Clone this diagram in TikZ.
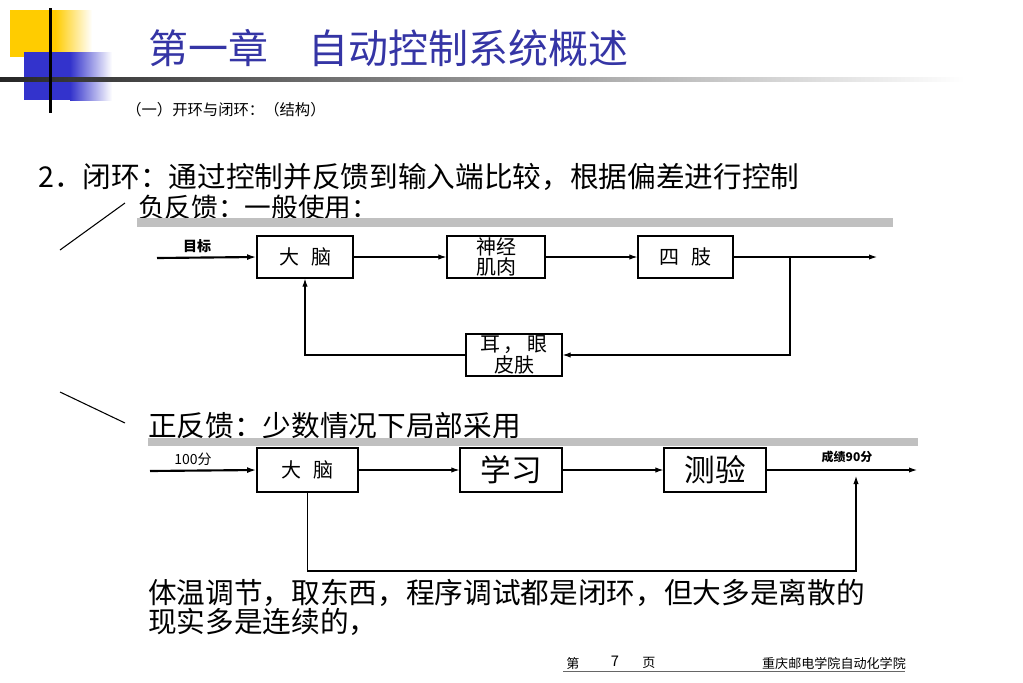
\documentclass[tikz,border=0pt]{standalone}
\usepackage{fontspec}
\setmainfont{Noto Sans CJK SC}
\usetikzlibrary{arrows.meta}
\definecolor{titleblue}{HTML}{3535A5}
\definecolor{decoyellow}{HTML}{FFCC00}
\definecolor{decoblue}{HTML}{3333CC}
\definecolor{bargray}{HTML}{C0C0C0}
\begin{document}
\begin{tikzpicture}[x=0.75pt,y=-0.75pt,
  blk/.style={draw, line width=0.9pt, inner sep=0pt, align=center, minimum height=31.5pt},
  conn/.style={line width=0.8pt, -{Latex[length=6pt,width=4pt]}},
  plain/.style={line width=0.8pt},
  inp/.style={line width=1.6pt, -{Latex[length=7pt,width=4.5pt]}},
  big/.style={font=\fontsize{21.5pt}{26pt}\selectfont, anchor=west, inner sep=0pt},
  lab/.style={font=\bfseries\fontsize{10.5pt}{12pt}\selectfont, inner sep=0pt},
  foot/.style={font=\fontsize{9.8pt}{12pt}\selectfont, inner sep=0pt}]
\useasboundingbox (0,0) rectangle (1023,682);
% decoration
\fill[decoyellow] (10,10) rectangle (55,57);
\shade[left color=decoyellow, right color=white] (55,10) rectangle (92,57);
\fill[decoblue] (24,52) rectangle (70,100);
\shade[left color=decoblue, right color=white] (70,52) rectangle (112,100);
\shade[left color=black!85, right color=white] (0,77) rectangle (965,81);
\fill[black] (48.5,8) rectangle (51.5,113);
% titles
\node[anchor=west, text=titleblue, font=\fontsize{30pt}{36pt}\selectfont, inner sep=0pt] (title) at (148,48) {第一章　自动控制系统概述};
\node[anchor=west, font=\fontsize{11.5pt}{13pt}\selectfont, inner sep=0pt] (sub) at (126,110) {（一）开环与闭环：（结构）};
\node[big] (head) at (38,177) {2．闭环：通过控制并反馈到输入端比较，根据偏差进行控制};
\node[big, font=\fontsize{20pt}{24pt}\selectfont] (neg) at (138,207) {负反馈：一般使用：};
\fill[bargray] (137,218) rectangle (893,227);
\draw[line width=0.8pt] (60,250) -- (125,203);
% negative feedback diagram
\node[blk, minimum width=72pt, font=\fontsize{15pt}{18pt}\selectfont] (b1) at (305,257) {大\hspace{0.6em}脑};
\node[blk, minimum width=73.5pt, font=\fontsize{15pt}{15.5pt}\selectfont] (b2) at (496,257) {神经\\肌肉};
\node[blk, minimum width=71.25pt, font=\fontsize{15pt}{18pt}\selectfont] (b3) at (685.5,257) {四\hspace{0.6em}肢};
\node[blk, minimum width=72pt, font=\fontsize{15pt}{15.5pt}\selectfont] (b4) at (514,355) {耳\hspace{0.2em}，\hspace{0.2em}眼\\皮肤};
\coordinate (in1) at (157,258);
\coordinate (out1) at (877,257);
\coordinate (br1) at (790,257);
\node[lab] (l1) at (197,246) {目标};
\draw[inp] (in1) -- (b1.west);
\draw[conn] (b1) -- (b2);
\draw[conn] (b2) -- (b3);
\draw[conn] (b3) -- (out1);
\draw[conn] (br1) |- (b4.east);
\draw[conn] (b4.west) -| (b1.south);
% positive feedback
\draw[line width=0.8pt] (60,392) -- (125,423);
\node[big] (pos) at (148,426) {正反馈：少数情况下局部采用};
\fill[bargray] (148,438) rectangle (918,446);
\node[blk, minimum width=75.75pt, minimum height=33pt, font=\fontsize{15pt}{18pt}\selectfont] (c1) at (307.5,470) {大\hspace{0.6em}脑};
\node[blk, minimum width=76.5pt, minimum height=33pt, font=\fontsize{23pt}{26pt}\selectfont] (c2) at (511,470) {学习};
\node[blk, minimum width=76.5pt, minimum height=33pt, font=\fontsize{23pt}{26pt}\selectfont] (c3) at (715,470) {测验};
\coordinate (in2) at (150,471);
\coordinate (out2) at (917,470);
\coordinate (cb) at (856,571);
\coordinate (fbend) at (856,476);
\node[lab, font=\fontsize{10.5pt}{12pt}\selectfont] (l2) at (193,459) {100分};
\node[lab, font=\bfseries\fontsize{9pt}{11pt}\selectfont] (l3) at (847,457) {成绩90分};
\draw[inp] (in2) -- (c1.west);
\draw[conn] (c1) -- (c2);
\draw[conn] (c2) -- (c3);
\draw[conn] (c3) -- (out2);
\draw[conn] (c1.south) |- (cb) -- (fbend);
% bottom text
\node[big] (t1) at (148,593) {体温调节，取东西，程序调试都是闭环，但大多是离散的};
\node[big] (t2) at (148,622) {现实多是连续的，};
% footer
\node[foot] (f1) at (573,663) {第};
\node[foot, font=\fontsize{11pt}{13pt}\selectfont] (f2) at (615,661) {7};
\node[foot] (f3) at (649,663) {页};
\node[foot] (f4) at (834,663) {重庆邮电学院自动化学院};
\draw[black!60, line width=0.6pt] (563,671) -- (905,671);
\end{tikzpicture}
\end{document}
